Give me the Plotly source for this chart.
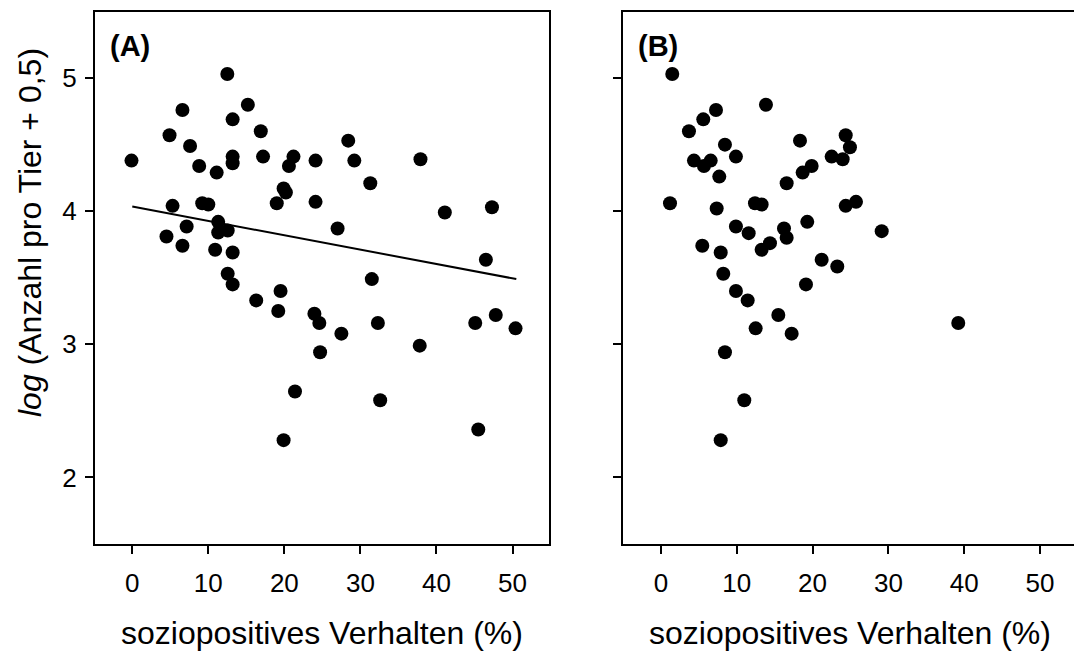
import plotly.graph_objects as go

# ---- Data ----
a_x = [12.5, 15.2, 6.6, 13.2, 16.9, 4.9, 7.6, -0.1, 13.2, 13.2, 17.2, 21.2, 20.6, 24.1,
       8.8, 11.1, 19.9, 20.2, 19.0, 24.1, 5.3, 9.2, 10.0, 11.3, 11.3, 12.55, 7.15, 4.5,
       6.6, 10.9, 13.2, 12.55, 13.2, 19.5, 16.3, 19.2, 23.95, 24.6, 24.7, 21.4, 19.9,
       28.4, 29.2, 37.9, 31.3, 41.1, 47.3, 27.0, 46.5, 31.5, 27.5, 32.3, 45.1, 47.8,
       50.4, 37.8, 32.6, 45.5]
a_y = [5.03, 4.80, 4.76, 4.69, 4.60, 4.57, 4.49, 4.38, 4.41, 4.36, 4.41, 4.41, 4.34, 4.38,
       4.34, 4.29, 4.17, 4.14, 4.06, 4.07, 4.04, 4.06, 4.05, 3.92, 3.84, 3.855, 3.885, 3.81,
       3.74, 3.71, 3.69, 3.53, 3.45, 3.40, 3.33, 3.25, 3.23, 3.16, 2.94, 2.645, 2.28,
       4.53, 4.38, 4.39, 4.21, 3.99, 4.03, 3.87, 3.635, 3.49, 3.08, 3.16, 3.16, 3.22,
       3.12, 2.99, 2.58, 2.36]

trend_x = [0.0, 50.5]
trend_y = [4.035, 3.49]

b_x = [1.49, 13.85, 7.26, 5.58, 3.69, 18.34, 8.44, 9.89, 4.35, 5.67, 6.56, 7.69, 19.88,
       18.69, 16.58, 22.52, 23.97, 24.37, 24.93, 1.19, 7.35, 12.40, 13.28, 19.30, 9.89,
       11.57, 16.23, 16.58, 14.38, 13.28, 5.45, 7.88, 8.22, 21.20, 23.26, 19.13, 9.89,
       11.44, 24.37, 25.73, 29.12, 15.48, 12.49, 17.24, 8.44, 10.99, 7.88, 39.22]
b_y = [5.03, 4.80, 4.76, 4.69, 4.60, 4.53, 4.50, 4.41, 4.38, 4.34, 4.38, 4.26, 4.34,
       4.29, 4.21, 4.41, 4.39, 4.57, 4.48, 4.06, 4.02, 4.06, 4.05, 3.92, 3.885,
       3.835, 3.87, 3.80, 3.76, 3.71, 3.74, 3.69, 3.53, 3.635, 3.585, 3.45, 3.40,
       3.33, 4.04, 4.07, 3.85, 3.22, 3.12, 3.08, 2.94, 2.58, 2.28, 3.16]

x_ticks = [0, 10, 20, 30, 40, 50]
y_ticks = [2, 3, 4, 5]
panel_labels = ["(A)", "(B)"]
x_title = "soziopositives Verhalten (%)"
y_title = "<i>log</i> (Anzahl pro Tier + 0,5)"

W, H = 1074, 653
FONT = "Liberation Sans, Arial, sans-serif"
TICK_SIZE = 26
TITLE_SIZE = 32

fig = go.Figure()
mk = dict(color="black", size=14, line=dict(width=0))
fig.add_trace(go.Scatter(x=a_x, y=a_y, mode="markers", marker=mk, xaxis="x", yaxis="y",
                         showlegend=False, hoverinfo="skip"))
fig.add_trace(go.Scatter(x=trend_x, y=trend_y, mode="lines", line=dict(color="black", width=2),
                         xaxis="x", yaxis="y", showlegend=False, hoverinfo="skip"))
fig.add_trace(go.Scatter(x=b_x, y=b_y, mode="markers", marker=mk, xaxis="x2", yaxis="y2",
                         showlegend=False, hoverinfo="skip"))

ydom = [109 / H, 641.5 / H]
common = dict(showline=True, linewidth=2, linecolor="black", ticks="outside", ticklen=8,
              tickwidth=2, tickcolor="black", showgrid=False, zeroline=False,
              tickfont=dict(family=FONT, size=TICK_SIZE, color="black"))

fig.update_layout(
    width=W, height=H, margin=dict(l=0, r=0, t=0, b=0),
    paper_bgcolor="white", plot_bgcolor="white",
    font=dict(family=FONT, color="black"),
    xaxis=dict(domain=[95 / W, 549 / W], range=[-4.9, 54.8], tickvals=x_ticks, mirror=True,
               anchor="y", ticklabelstandoff=7, **common),
    yaxis=dict(domain=ydom, range=[1.5, 5.5], tickvals=y_ticks, mirror=True, anchor="x",
               ticklabelstandoff=3, **common),
    xaxis2=dict(domain=[622.7 / W, 1.0], range=[-5.05, 54.49], tickvals=x_ticks, mirror=True,
                anchor="y2", ticklabelstandoff=7, **common),
    yaxis2=dict(domain=ydom, range=[1.5, 5.5], tickvals=y_ticks, mirror=False, anchor="x2",
                showticklabels=False, **common),
)

ann = []
for xc in (322, 850):
    ann.append(dict(text=x_title, x=xc / W, y=(H - 633) / H, xref="paper", yref="paper",
                    xanchor="center", yanchor="middle", showarrow=False,
                    font=dict(family=FONT, size=TITLE_SIZE, color="black")))
ann.append(dict(text=y_title, x=30 / W, y=(H - 233) / H, xref="paper", yref="paper",
                xanchor="center", yanchor="middle", textangle=-90, showarrow=False,
                font=dict(family=FONT, size=TITLE_SIZE, color="black")))
for lab, xp in zip(panel_labels, [108, 636]):
    ann.append(dict(text="<b>" + lab + "</b>", x=xp / W, y=(H - 46) / H, xref="paper",
                    yref="paper", xanchor="left", yanchor="middle", showarrow=False,
                    font=dict(family=FONT, size=29, color="black")))
fig.update_layout(annotations=ann)

fig.write_html("out.html")
